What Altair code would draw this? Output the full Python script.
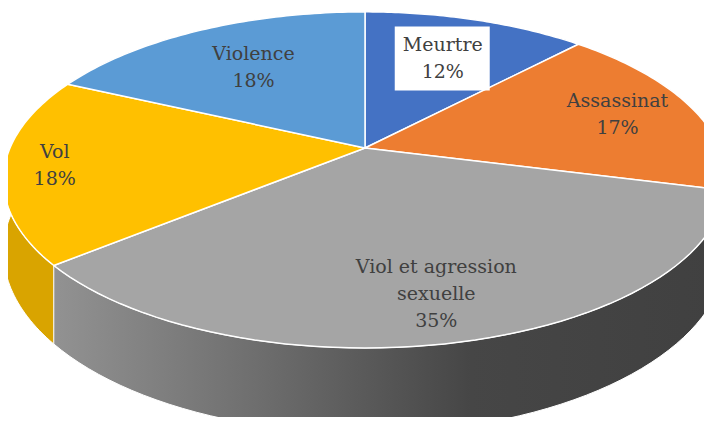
import altair as alt
import pandas as pd

# ---- data ----
categories = ["Meurtre", "Assassinat", "Viol et agression sexuelle", "Vol", "Violence"]
values = [12, 17, 35, 18, 18]
label_lines = ["Meurtre", "Assassinat", "Viol et agression\nsexuelle", "Vol", "Violence"]

# ---- styles ----
top_colors = ["#4472C4", "#ED7D31", "#A5A5A5", "#FFC000", "#5B9BD5"]
side_colors = ["#2F5597", "#C55A11", "#7A7A7A", "#D9A400", "#3F7FBF"]
label_radius = [0.70, 0.78, 0.75, 0.86, 0.68]
label_boxed = [1, 0, 0, 0, 0]

W, H = 696, 409
RX, RY, K, DEPTH, N = 355, 162, 0.19, 69, 60
LINE_H = 27
X_MIN = 8 - 365
X_MAX = X_MIN + W
Y_MAX = 148 - 8
Y_MIN = Y_MAX - H

df = pd.DataFrame({
    "cat": categories, "value": values, "lab": label_lines,
    "f": label_radius, "boxed": label_boxed, "ord": list(range(len(categories))),
})

xs = alt.Scale(domain=[X_MIN, X_MAX], nice=False, zero=False)
ys = alt.Scale(domain=[Y_MIN, Y_MAX], nice=False, zero=False)

base = (
    alt.Chart(df)
    .transform_window(cum="sum(value)", sort=[alt.SortField("ord")], frame=[None, 0])
    .transform_joinaggregate(total="sum(value)")
    .transform_calculate(
        t0="2*PI*(datum.cum-datum.value)/datum.total",
        t1="2*PI*datum.cum/datum.total",
    )
)

# side walls (polygon: top arc forward, bottom arc backward)
wall_data = (
    base.transform_calculate(idx=f"sequence(0, {2 * N + 2})")
    .transform_flatten(["idx"])
    .transform_calculate(
        low=f"datum.idx > {N}",
        u=f"datum.idx <= {N} ? datum.idx/{N} : ({2 * N + 1}-datum.idx)/{N}",
    )
    .transform_calculate(t="datum.t0 + (datum.t1-datum.t0)*datum.u")
    .transform_calculate(s=f"1/(1+{K}*cos(datum.t))")
    .transform_calculate(
        px=f"{RX}*sin(datum.t)*datum.s",
        py=f"{RY}*cos(datum.t)*datum.s - (datum.low ? {DEPTH}*datum.s : 0)",
    )
)

walls = wall_data.transform_filter(alt.datum.cat != categories[2]).mark_line(
    filled=True, stroke="white", strokeWidth=1, clip=True
).encode(
    x=alt.X("px:Q", scale=xs, axis=None),
    y=alt.Y("py:Q", scale=ys, axis=None),
    order="idx:Q",
    color=alt.Color("cat:N", scale=alt.Scale(domain=categories, range=side_colors), legend=None),
    detail="cat:N",
)

gray_wall = wall_data.transform_filter(alt.datum.cat == categories[2]).mark_line(
    filled=True, stroke="white", strokeWidth=1, clip=True,
    fill=alt.LinearGradient(
        gradient="linear",
        stops=[
            alt.GradientStop(color="#929292", offset=0),
            alt.GradientStop(color="#727272", offset=0.27),
            alt.GradientStop(color="#464646", offset=0.62),
            alt.GradientStop(color="#404040", offset=1),
        ],
        x1=0, x2=1, y1=0, y2=0,
    ),
).encode(
    x=alt.X("px:Q", scale=xs, axis=None),
    y=alt.Y("py:Q", scale=ys, axis=None),
    order="idx:Q",
    detail="cat:N",
)

# top faces
top = (
    base.transform_calculate(idx=f"sequence(0, {N + 3})")
    .transform_flatten(["idx"])
    .transform_calculate(
        apex=f"datum.idx == 0 || datum.idx == {N + 2}",
        u=f"clamp((datum.idx-1)/{N}, 0, 1)",
    )
    .transform_calculate(t="datum.t0 + (datum.t1-datum.t0)*datum.u")
    .transform_calculate(s=f"1/(1+{K}*cos(datum.t))")
    .transform_calculate(
        px=f"datum.apex ? 0 : {RX}*sin(datum.t)*datum.s",
        py=f"datum.apex ? 0 : {RY}*cos(datum.t)*datum.s",
    )
    .mark_line(filled=True, stroke="white", strokeWidth=1.5, strokeJoin="round", clip=True)
    .encode(
        x=alt.X("px:Q", scale=xs, axis=None),
        y=alt.Y("py:Q", scale=ys, axis=None),
        order="idx:Q",
        color=alt.Color("cat:N", scale=alt.Scale(domain=categories, range=top_colors), legend=None),
        detail="cat:N",
    )
)

label_data = (
    base.transform_calculate(tm="(datum.t0+datum.t1)/2")
    .transform_calculate(s=f"1/(1+{K}*cos(datum.tm))")
    .transform_calculate(
        cx=f"{RX}*sin(datum.tm)*datum.s*datum.f",
        cy=f"{RY}*cos(datum.tm)*datum.s*datum.f",
        txt="datum.lab + '\\n' + round(100*datum.value/datum.total) + '%'",
    )
    .transform_calculate(nl="length(split(datum.txt, '\\n'))")
    .transform_calculate(px="datum.cx", py=f"datum.cy + (datum.nl-1)*{LINE_H}/2")
)

boxes = label_data.transform_filter(alt.datum.boxed == 1).transform_calculate(
    bx0="datum.cx-48", bx1="datum.cx+47", by0="datum.cy+32", by1="datum.cy-32"
).mark_rect(fill="white").encode(
    x=alt.X("bx0:Q", scale=xs, axis=None),
    x2="bx1:Q",
    y=alt.Y("by0:Q", scale=ys, axis=None),
    y2="by1:Q",
)

labels = label_data.mark_text(
    font="DejaVu Serif", fontSize=19, color="#404040",
    lineBreak="\n", lineHeight=LINE_H, align="center", baseline="middle",
).encode(
    x=alt.X("px:Q", scale=xs, axis=None),
    y=alt.Y("py:Q", scale=ys, axis=None),
    text="txt:N",
)

chart = (
    alt.layer(walls, gray_wall, top, boxes, labels)
    .resolve_scale(color="independent")
    .properties(width=W, height=H, padding=0, autosize=alt.AutoSizeParams(type="none"))
    .configure_view(stroke=None)
)

chart.save("out.html", embed_options={"renderer": "svg", "actions": False})
